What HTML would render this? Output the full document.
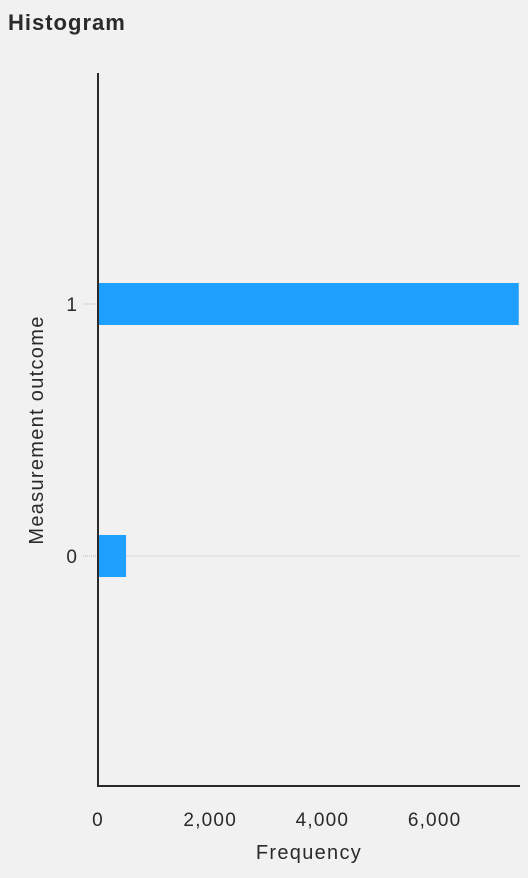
<!DOCTYPE html>
<html><head><meta charset="utf-8">
<style>
html,body{margin:0;padding:0;background:#f1f1f1;}
body{width:528px;height:873px;overflow:hidden;font-family:"Liberation Sans",sans-serif;}
</style></head>
<body>
<svg id="chart" width="528" height="873" xmlns="http://www.w3.org/2000/svg">
<rect width="528" height="873" fill="#f1f1f1"/>
<text x="8" y="30" font-size="22" font-weight="bold" letter-spacing="1" fill="#2a2a2a">Histogram</text>
<g id="grid"></g>
<g id="bars"></g>
<line x1="98" y1="73" x2="98" y2="787" stroke="#2a2a2a" stroke-width="2"/>
<line x1="97" y1="786" x2="520" y2="786" stroke="#2a2a2a" stroke-width="2"/>
<g id="xticks"></g>
<g id="yticks"></g>
<text x="309" y="859" font-size="20" letter-spacing="1.3" text-anchor="middle" fill="#2a2a2a">Frequency</text>
<text transform="translate(43,430) rotate(-90)" font-size="20" letter-spacing="1.3" text-anchor="middle" fill="#2a2a2a">Measurement outcome</text>
</svg>
<script>
const categories = ["1", "0"];
const counts = [7500, 500];
const xTickValues = [0, 2000, 4000, 6000];
const xTickLabels = ["0", "2,000", "4,000", "6,000"];

const NS = "http://www.w3.org/2000/svg";
const x0 = 98, pxPer = 0.0561, xMaxPx = 520;
function xScale(v){ return x0 + v * pxPer; }
const catY = {"1": 304, "0": 556};
function yScale(c){ return catY[c]; }
const barH = 42;

const grid = document.getElementById('grid');
const bars = document.getElementById('bars');
const yt = document.getElementById('yticks');
const xt = document.getElementById('xticks');

categories.forEach((c, i) => {
  const y = yScale(c);
  const g = document.createElementNS(NS, 'line');
  
  
  g.setAttribute('x1', 98); g.setAttribute('x2', xMaxPx);
  g.setAttribute('y1', y); g.setAttribute('y2', y);
  g.setAttribute('stroke', '#d8d8d8'); g.setAttribute('stroke-width', '1');
  grid.appendChild(g);

  const tk = document.createElementNS(NS, 'line');
  
  
  tk.setAttribute('x1', 83); tk.setAttribute('x2', 97);
  tk.setAttribute('y1', y); tk.setAttribute('y2', y);
  tk.setAttribute('stroke', '#bbb'); tk.setAttribute('stroke-dasharray', '1,1');
  yt.appendChild(tk);

  const t = document.createElementNS(NS, 'text');
  
  
  t.setAttribute('x', 77); t.setAttribute('y', y + 7);
  t.setAttribute('font-size', '19'); t.setAttribute('text-anchor', 'end');
  t.setAttribute('fill', '#2a2a2a');
  t.textContent = c;
  yt.appendChild(t);

  const r = document.createElementNS(NS, 'rect');
  
  
  r.setAttribute('x', 99);
  r.setAttribute('y', y - barH / 2);
  r.setAttribute('width', Math.max(0, Math.min(xScale(counts[i]), xMaxPx) - 99));
  r.setAttribute('height', barH);
  r.setAttribute('fill', '#1fa0fe');
  bars.appendChild(r);
});

xTickValues.forEach((v, i) => {
  const t = document.createElementNS(NS, 'text');
  
  
  t.setAttribute('x', xScale(v)); t.setAttribute('y', 826);
  t.setAttribute('font-size', '19'); t.setAttribute('letter-spacing', '1.2');
  t.setAttribute('text-anchor', 'middle');
  t.setAttribute('fill', '#2a2a2a');
  t.textContent = xTickLabels[i];
  xt.appendChild(t);
});
</script>
</body></html>
